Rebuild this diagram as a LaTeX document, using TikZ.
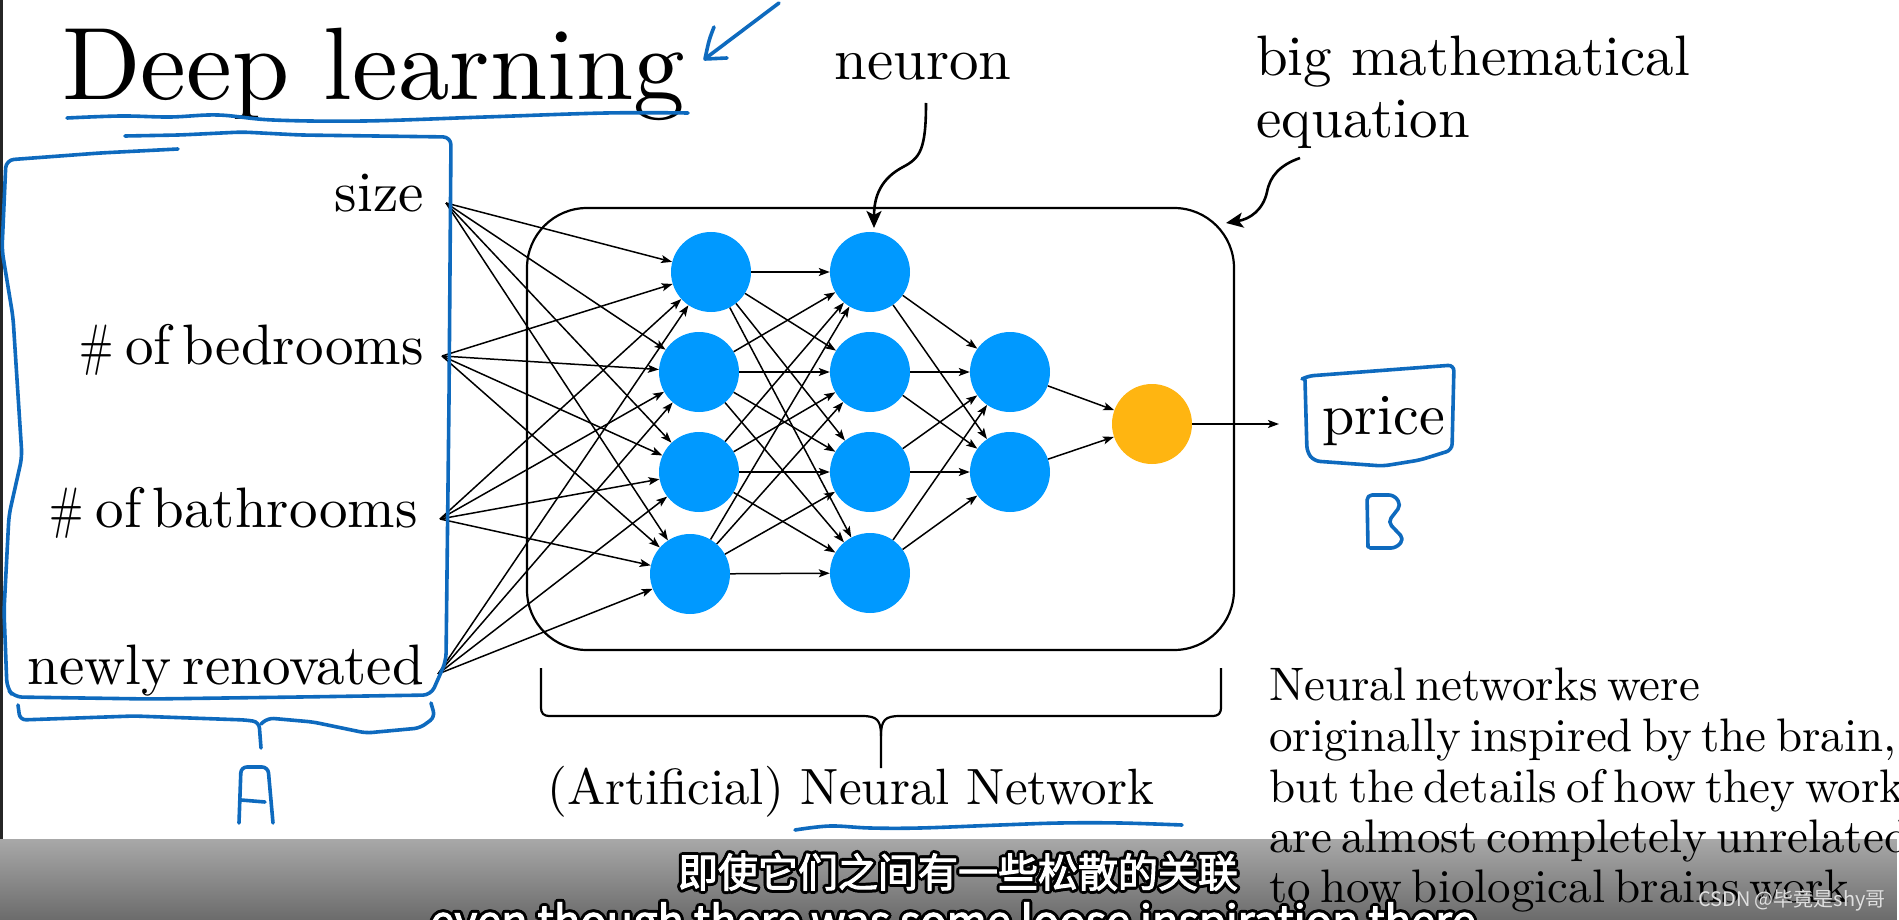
\documentclass[tikz,border=0pt]{standalone}
\usepackage{fontspec}
\setmainfont{lmroman10-regular.otf}
\newfontfamily\cjk{Noto Sans CJK SC}
\newfontfamily\cjkheavy{Noto Sans CJK SC}[FakeBold=2.5]
\usetikzlibrary{arrows.meta,fadings,calc}
\definecolor{nblue}{RGB}{0,153,255}
\definecolor{norange}{RGB}{255,181,17}
\definecolor{pen}{RGB}{14,106,190}
\newcommand{\narrowhash}{\scalebox{0.72}[1]{\#}}
\tikzfading[name=barfade, top color=transparent!66, bottom color=transparent!42]
\tikzset{
  neu/.style={circle, fill=nblue, minimum size=80pt, inner sep=0pt},
  outn/.style={circle, fill=norange, minimum size=80pt, inner sep=0pt},
  conn/.style={line width=1.5pt, -{Stealth[length=11pt,width=8pt,inset=2.5pt]}},
  pointer/.style={line width=2.6pt, -{Stealth[length=17pt,width=15pt,inset=4pt]}},
  penline/.style={draw=pen, line width=3.6pt, line cap=round, line join=round},
  lbl/.style={inner sep=0pt, font={\fontsize{57}{57}\selectfont\spaceskip=0.2em\relax}},
  para/.style={inner sep=0pt, anchor=base west, font={\fontsize{47}{47}\selectfont\spaceskip=0.2em\relax}},
  subzh/.style={inner sep=0pt, font=\cjkheavy\fontsize{40}{40}\selectfont},
  suben/.style={inner sep=0pt, anchor=base, font=\cjkheavy\fontsize{43.5}{43.5}\selectfont},
  bracket/.style={line width=2.2pt, line join=round},
}
\begin{document}
\begin{tikzpicture}[x=1pt,y=-1pt]
\useasboundingbox (0,0) rectangle (1899,920);
\fill[white] (0,0) rectangle (1899,920);
\begin{scope}
\clip (0,0) rectangle (1899,920);
\fill[black!85] (0,0) rectangle (2.5,839);

% title
\node[anchor=base west, inner sep=0pt, font=\fontsize{103}{103}\selectfont] (title) at (62,100) {Deep learning};

% input labels
\node[lbl, anchor=base east] (lsize) at (424,212) {size};
\node[lbl, anchor=base east] (lbed) at (424,364) {\narrowhash{} of bedrooms};
\node[lbl, anchor=base east] (lbath) at (418,527) {\narrowhash{} of bathrooms};
\node[lbl, anchor=base east] (lren) at (424,684) {newly renovated};

\coordinate (x1) at (446,203);
\coordinate (x2) at (442,356);
\coordinate (x3) at (440,519);
\coordinate (x4) at (438,674);

% network box
\node[draw, line width=2.2pt, rounded corners=60pt, minimum width=707pt, minimum height=442pt, inner sep=0pt] (box) at (880.5,429) {};

% neurons
\node[neu] (a1) at (711,272) {};
\node[neu] (a2) at (699,372) {};
\node[neu] (a3) at (699,472) {};
\node[neu] (a4) at (690,574) {};
\node[neu] (b1) at (870,272) {};
\node[neu] (b2) at (870,372) {};
\node[neu] (b3) at (870,472) {};
\node[neu] (b4) at (870,573) {};
\node[neu] (c1) at (1010,372) {};
\node[neu] (c2) at (1010,472) {};
\node[outn] (o) at (1152,424) {};
\coordinate (oe) at (1279,424);

\foreach \i in {1,...,4} \foreach \j in {1,...,4} \draw[conn] (x\i) -- (a\j);
\foreach \i in {1,...,4} \foreach \j in {1,...,4} \draw[conn] (a\i) -- (b\j);
\foreach \i in {1,...,4} \foreach \j in {1,2} \draw[conn] (b\i) -- (c\j);
\foreach \j in {1,2} \draw[conn] (c\j) -- (o);
\draw[conn] (o) -- (oe);

% neuron label
\node[anchor=base west, inner sep=0pt, font=\fontsize{59}{59}\selectfont] (neuron) at (834,80) {neuron};
\coordinate (nstart) at (926,103);
\coordinate (ntip) at (874,228);
\draw[pointer] (nstart) .. controls (926,150) and (920,158) .. (903,167) .. controls (882,178) and (874,195) .. (ntip);

% big mathematical equation
\node[anchor=base west, inner sep=0pt, font=\fontsize{57}{57}\selectfont] (bme1) at (1256,76) {big mathematical};
\node[anchor=base west, inner sep=0pt, font=\fontsize{57}{57}\selectfont] (bme2) at (1256,138) {equation};
\coordinate (estart) at (1300,158);
\coordinate (etip) at (1226,223);
\draw[pointer] (estart) .. controls (1280,165) and (1270,176) .. (1267,192) .. controls (1263,210) and (1250,219) .. (etip);

% bracket
\draw[bracket] (541,668) -- (541,706) .. controls (541,714) and (543,716) .. (551,716) -- (862,716) .. controls (877,716) and (881,720) .. (881,736) -- (881,768);
\draw[bracket] (1221,668) -- (1221,706) .. controls (1221,714) and (1219,716) .. (1211,716) -- (900,716) .. controls (885,716) and (881,720) .. (881,736);
\node[anchor=base west, inner sep=0pt, font=\fontsize{51}{51}\selectfont] (nn) at (547,804) {(Artificial) Neural Network};

% price
\node[anchor=base west, inner sep=0pt, font=\fontsize{58}{58}\selectfont] (price) at (1322,434) {price};

% paragraph
\node[para] (p1) at (1269,700) {Neural networks were};
\node[para] (p2) at (1269,751) {originally inspired by the brain,};
\node[para] (p3) at (1269,802) {but the details of how they work};
\node[para] (p4) at (1269,852) {are almost completely unrelated};
\node[para] (p5) at (1269,902) {to how biological brains work};

% blue pen annotations
\draw[penline] plot[smooth, tension=0.6] coordinates {(67,118) (121,116) (170,117) (218,115) (273,120) (364,121) (485,117) (606,113) (688,113)};
\draw[penline] (779,3) -- (706,58);
\draw[penline] (714,27) .. controls (709,40) .. (705,59) -- (727,58);
\draw[penline, rounded corners=8pt] (178,149) -- (100,153) -- (6,160) -- (2,250) -- (13,317) -- (22,457) -- (9,515) -- (4,611) -- (7,688) -- (14,697) -- (150,699) -- (300,697) -- (431,695) -- (446,661) -- (449,400) -- (451,137) -- (300,135) -- (242,132) -- (180,135) -- (125,136);
\draw[penline, rounded corners=6pt] (18,705) -- (20,720) -- (134,716) -- (246,720) -- (259,722) -- (261,748);
\draw[penline, rounded corners=6pt] (261,724) -- (268,718) -- (313,722) -- (366,733) -- (420,728) -- (435,717) -- (431,703);
\draw[penline, rounded corners=6pt] (239,823) -- (241,767) -- (268,767) -- (273,823);
\draw[penline] (241,800) -- (265,802);
\draw[penline, rounded corners=6pt] (1302,379) -- (1308,376) -- (1454,365) -- (1452,450) -- (1420,460) -- (1383,466) -- (1314,461) -- (1307,452) -- (1305,380);
\draw[penline, rounded corners=5pt] (1368,547) -- (1367,495) -- (1394,495) -- (1401,505) -- (1388,522) -- (1404,539) -- (1396,548) -- (1370,548);
\draw[penline] plot[smooth, tension=0.6] coordinates {(795,830) (830,826) (870,828) (920,828) (1000,825) (1060,823) (1120,823) (1182,825)};

% subtitle bar
\fill[black, path fading=barfade] (0,839) rectangle (1899,920);
\foreach \a in {0,30,...,330} {
  \node[subzh, text=black] (zhs\a) at ($(958,872)+(\a:3)$) {即使它们之间有一些松散的关联};
  \node[suben, text=black] (ens\a) at ($(953,937)+(\a:3)$) {even though there was some loose inspiration there};
}
\node[subzh, text=white] (zh) at (958,872) {即使它们之间有一些松散的关联};
\node[suben, text=white] (en) at (953,937) {even though there was some loose inspiration there};

% watermark
\node[inner sep=0pt, font=\cjk\fontsize{20}{20}\selectfont, text=black!55] (wms) at (1793,901) {CSDN @毕竟是shy哥};
\node[inner sep=0pt, font=\cjk\fontsize{20}{20}\selectfont, text=white!88!black] (wm) at (1792,900) {CSDN @毕竟是shy哥};
\end{scope}
\end{tikzpicture}
\end{document}
